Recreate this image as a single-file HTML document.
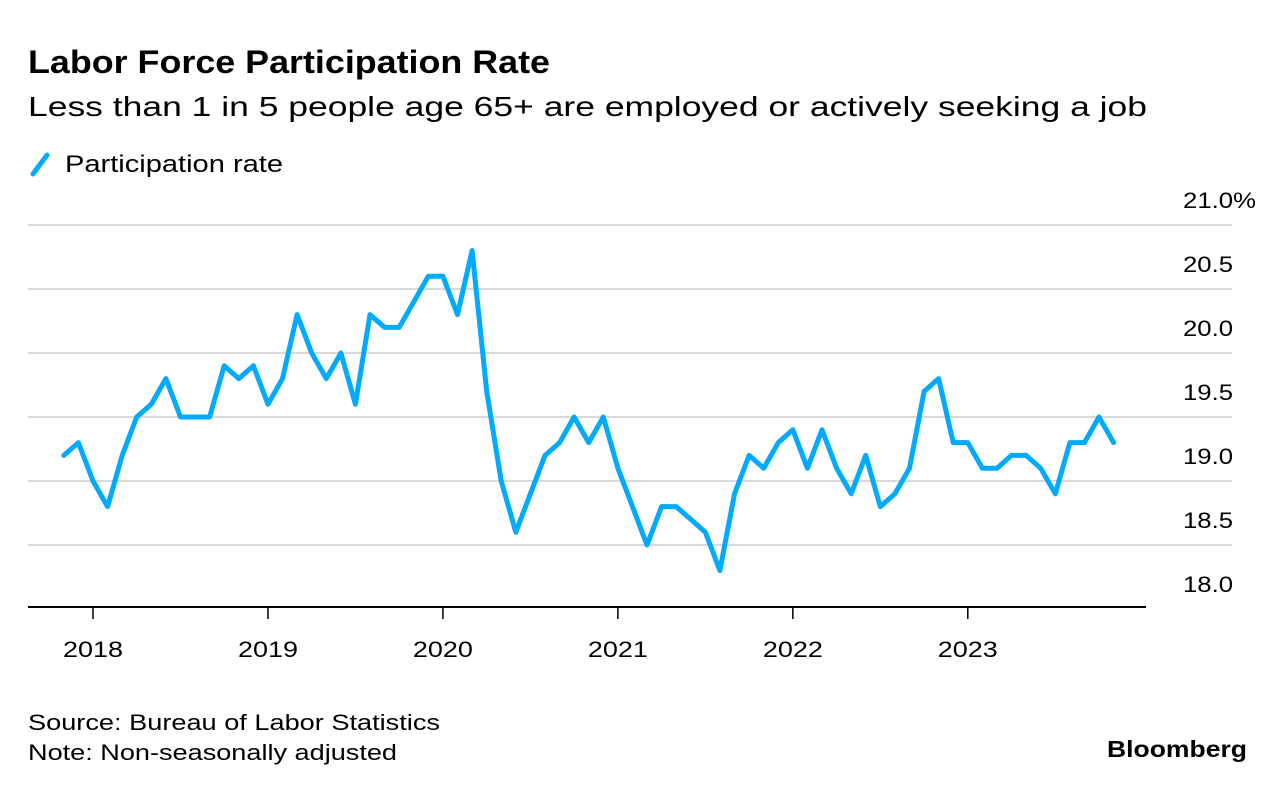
<!DOCTYPE html>
<html><head><meta charset="utf-8"><style>
body{margin:0;background:#fff;font-family:"Liberation Sans",sans-serif;}
</style></head><body>
<svg width="1286" height="792" xmlns="http://www.w3.org/2000/svg" font-family="Liberation Sans, sans-serif">
<text x="28" y="73" font-size="32" font-weight="bold" fill="#000" textLength="522" lengthAdjust="spacingAndGlyphs">Labor Force Participation Rate</text>
<text x="28" y="116" font-size="28" fill="#000" textLength="1119" lengthAdjust="spacingAndGlyphs">Less than 1 in 5 people age 65+ are employed or actively seeking a job</text>
<g>
<line x1="33" y1="174" x2="47" y2="155" stroke="#00aaff" stroke-width="5" stroke-linecap="round"/>
<text x="65" y="172" font-size="24" fill="#000" textLength="218" lengthAdjust="spacingAndGlyphs">Participation rate</text>
</g>
<g id="grid"></g>
<g id="xaxis"></g>
<g id="series"></g>
<text x="28" y="730" font-size="22" fill="#000" textLength="412" lengthAdjust="spacingAndGlyphs">Source: Bureau of Labor Statistics</text>
<text x="28" y="760" font-size="22" fill="#000" textLength="369" lengthAdjust="spacingAndGlyphs">Note: Non-seasonally adjusted</text>
<text x="1107" y="757" font-size="23" font-weight="bold" fill="#000" textLength="140" lengthAdjust="spacingAndGlyphs">Bloomberg</text>
</svg>
<script>
const values=[19.2,19.3,
19.0,18.8,19.2,19.5,19.6,19.8,19.5,19.5,19.5,19.9,19.8,19.9,
19.6,19.8,20.3,20.0,19.8,20.0,19.6,20.3,20.2,20.2,20.4,20.6,
20.6,20.3,20.8,19.7,19.0,18.6,18.9,19.2,19.3,19.5,19.3,19.5,
19.1,18.8,18.5,18.8,18.8,18.7,18.6,18.3,18.9,19.2,19.1,19.3,
19.4,19.1,19.4,19.1,18.9,19.2,18.8,18.9,19.1,19.7,19.8,19.3,
19.3,19.1,19.1,19.2,19.2,19.1,18.9,19.3,19.3,19.5,19.3];
const startMonthOffset=-2; // Nov 2017 relative to Jan 2018
const yTicks=[18.0,18.5,19.0,19.5,20.0,20.5,21.0];
const yTickLabels=["18.0","18.5","19.0","19.5","20.0","20.5","21.0%"];
const years=["2018","2019","2020","2021","2022","2023"];
const NS="http://www.w3.org/2000/svg";
function y(v){return 609-(v-18)*128;}
function x(m){return 93+m*14.58;}
function mk(t,a,p){const e=document.createElementNS(NS,t);for(const k in a)e.setAttribute(k,a[k]);p.appendChild(e);return e;}
const grid=document.getElementById('grid');
yTicks.forEach((v,i)=>{
 if(i>0){const l=mk('line',{x1:28,x2:1232,y1:y(v),y2:y(v),stroke:'#d9d9d9','stroke-width':2},grid);
 
 }
 const lab=yTickLabels[i];
 const t=mk('text',{x:1183,y:y(v)-17,'font-size':22,fill:'#000',textLength:lab.length>4?73:50,lengthAdjust:'spacingAndGlyphs'},grid);
 t.textContent=lab;
 
 
});
const xa=document.getElementById('xaxis');
const ax=mk('line',{x1:28,x2:1146,y1:607,y2:607,stroke:'#000','stroke-width':2},xa);


years.forEach((yr,i)=>{
 const xx=x(i*12);
 const tk=mk('line',{x1:xx,x2:xx,y1:607,y2:619,stroke:'#000','stroke-width':1.5},xa);
 
 
 const t=mk('text',{x:xx-30,y:657,'font-size':22,fill:'#000',textLength:60,lengthAdjust:'spacingAndGlyphs'},xa);
 t.textContent=yr;
 
 
});
const pts=values.map((v,i)=>x(i+startMonthOffset).toFixed(1)+','+y(v).toFixed(1)).join(' ');
const pl=mk('polyline',{points:pts,fill:'none',stroke:'#00aaff','stroke-width':5,'stroke-linejoin':'round','stroke-linecap':'round'},document.getElementById('series'));


</script>
</body></html>
